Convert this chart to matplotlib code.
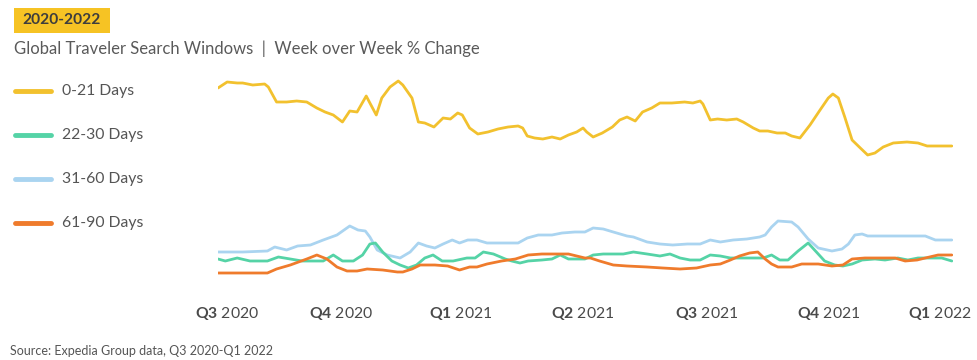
import matplotlib
matplotlib.use("Agg")
import matplotlib.pyplot as plt
from matplotlib.lines import Line2D
from matplotlib.patches import Rectangle

plt.rcParams["font.family"] = ["Lato", "DejaVu Sans"]
plt.rcParams["mathtext.fontset"] = "custom"
plt.rcParams["mathtext.rm"] = "Lato"
plt.rcParams["mathtext.bf"] = "Lato:bold"

# Weekly index values, x in weeks since start of Q3 2020
wk_0_21 = [0.0, 1.0, 2.1, 2.7, 3.8, 5.1, 5.5, 6.4, 7.5, 8.6, 9.7, 10.8, 11.7, 12.6,
           13.6, 14.4, 15.2, 16.2, 16.6, 17.3, 17.9, 18.8, 19.7, 20.2, 21.2, 21.9,
           22.6, 23.6, 24.6, 25.4, 26.2, 26.7, 27.5, 28.4, 29.5, 30.6, 31.7, 32.8,
           33.3, 33.8, 34.6, 35.5, 36.5, 37.4, 38.3, 39.2, 39.9, 40.3, 41.0, 42.0,
           43.1, 43.9, 44.7, 45.6, 46.4, 47.4, 48.3, 49.6, 51.0, 51.9, 52.7, 53.0,
           53.8, 54.6, 55.6, 56.7, 57.4, 58.5, 59.2, 60.1, 61.1, 62.0, 62.7, 63.6,
           64.7, 65.8, 66.7, 67.2, 67.8, 68.5, 69.3, 70.2, 71.0, 71.8, 72.7, 73.8,
           75.3, 76.5, 77.5, 78.9, 80.2]
val_0_21 = [192, 198, 197, 197, 195, 196, 193, 178, 178, 179, 178, 172, 168, 165,
            158, 169, 168, 184, 177, 165, 182, 193, 199, 195, 182, 158,
            157, 153, 162, 161, 167, 165, 152, 146, 148, 151, 153, 154,
            152, 144, 142, 141, 143, 141, 145, 148, 152, 148, 143, 147,
            153, 160, 163, 159, 168, 172, 177, 177, 178, 177, 179, 176,
            160, 161, 160, 161, 158, 152, 149, 149, 147, 147, 144, 142,
            155, 170, 182, 186, 182, 163, 140, 132, 125, 127, 133, 137,
            138, 137, 134, 134, 134]

wk_22_30 = [0.0, 0.8, 2.1, 3.5, 5.4, 6.6, 7.9, 9.2, 11.5, 12.6, 13.6, 14.8, 15.8,
            16.6, 17.2, 18.0, 19.0, 19.9, 20.8, 21.7, 22.6, 23.5, 24.5, 25.7, 26.7,
            27.2, 28.1, 29.0, 30.1, 31.4, 32.1, 33.0, 33.9, 35.4, 36.5, 37.4, 38.3,
            40.1, 41.0, 42.1, 43.2, 44.3, 45.4, 46.9, 48.3, 49.4, 50.5, 51.6, 52.7,
            53.8, 54.9, 56.0, 57.8, 59.6, 60.5, 61.4, 62.3, 63.4, 64.5, 65.2, 66.3,
            67.4, 68.3, 69.3, 70.4, 71.8, 72.9, 74.3, 75.4, 76.5, 78.0, 79.1, 80.2]
val_22_30 = [21, 19, 22, 19, 19, 23, 21, 19, 19, 25, 19, 19, 25,
             36, 37, 28, 19, 15, 12, 15, 22, 25, 19, 19, 21,
             22, 22, 28, 26, 21, 19, 17, 19, 20, 21, 25, 21,
             21, 25, 26, 26, 26, 28, 26, 24, 26, 22, 20, 20,
             25, 24, 22, 22, 22, 25, 20, 20, 29, 37, 30, 19,
             15, 14, 16, 20, 21, 20, 22, 20, 22, 22, 22, 19]

wk_31_60 = [0.0, 2.7, 5.4, 6.2, 7.5, 8.7, 10.1, 11.5, 13.0, 14.4, 15.3, 16.1, 16.6,
            17.4, 18.5, 19.9, 21.0, 21.9, 22.8, 23.7, 24.6, 25.6, 26.4, 27.3, 28.3,
            29.4, 31.0, 32.8, 33.8, 35.0, 36.5, 37.6, 39.0, 40.1, 41.0, 42.1, 43.2,
            44.7, 45.4, 46.9, 48.3, 49.7, 51.3, 52.7, 53.8, 54.9, 56.3, 57.8, 59.2,
            59.8, 60.5, 61.2, 62.7, 63.4, 64.5, 65.6, 67.1, 68.2, 68.9, 69.6, 70.4,
            71.0, 72.6, 74.3, 76.2, 77.3, 78.4, 80.2]
val_31_60 = [28, 28, 29, 33, 30, 34, 35, 40, 45, 54, 50, 49, 43,
             30, 25, 22, 28, 37, 34, 32, 36, 40, 37, 40, 40,
             37, 37, 37, 42, 45, 45, 47, 48, 48, 52, 51, 48,
             44, 43, 38, 36, 35, 36, 36, 40, 38, 40, 41, 43,
             45, 53, 59, 58, 53, 41, 32, 29, 31, 36, 45, 46,
             44, 44, 44, 44, 44, 40, 40]

wk_61_90 = [0.0, 5.4, 6.4, 7.9, 9.7, 10.8, 11.9, 13.0, 14.1, 15.2, 16.3, 18.0, 19.6,
            20.2, 21.2, 22.1, 23.7, 25.1, 26.4, 27.5, 28.3, 29.4, 31.0, 32.5, 33.9,
            35.4, 36.8, 38.3, 40.1, 40.7, 41.7, 43.2, 44.7, 46.9, 48.6, 50.5, 52.3,
            53.8, 54.9, 56.0, 57.0, 58.1, 59.0, 59.8, 60.5, 61.2, 62.7, 63.8, 65.6,
            67.1, 68.3, 69.3, 70.7, 72.6, 74.0, 75.1, 76.4, 77.3, 78.7, 80.2]
val_61_90 = [7, 7, 11, 15, 21, 25, 21, 13, 9, 9, 11, 10, 8,
             8, 11, 15, 15, 14, 10, 13, 13, 16, 19, 21, 25,
             26, 26, 26, 22, 22, 19, 15, 14, 13, 12, 11, 12,
             15, 16, 20, 24, 27, 28, 21, 16, 13, 13, 16, 16,
             14, 15, 21, 22, 22, 22, 19, 20, 22, 25, 25]

series_names = ["0-21 Days", "22-30 Days", "31-60 Days", "61-90 Days"]
series_colors = ["#F2C12E", "#55D3A6", "#AAD4F0", "#EF7B2C"]

quarter_weeks = [1.0, 13.4, 26.5, 39.9, 53.4, 66.7, 78.9]
quarter_q = ["Q3", "Q4", "Q1", "Q2", "Q3", "Q4", "Q1"]
quarter_year = ["2020", "2020", "2021", "2021", "2021", "2021", "2022"]

W, H = 977, 360
fig = plt.figure(figsize=(W / 100, H / 100), dpi=100)
fig.patch.set_facecolor("white")

ax = fig.add_axes([218 / W, 75 / H, 735 / W, 215 / H])
ax.set_xlim(0, 80.33)
ax.set_ylim(-5, 210)
ax.axis("off")

all_data = [(wk_0_21, val_0_21), (wk_22_30, val_22_30),
            (wk_31_60, val_31_60), (wk_61_90, val_61_90)]
# blue underneath, yellow on top
for idx in [2, 1, 3, 0]:
    wk, val = all_data[idx]
    ax.plot(wk, val, color=series_colors[idx], lw=2.0,
            solid_joinstyle="round", solid_capstyle="round")

# quarter labels: bold quarter, light year
label_y = (H - 313) / H
tr = matplotlib.transforms.blended_transform_factory(ax.transData, fig.transFigure)
for wk, q, yr in zip(quarter_weeks, quarter_q, quarter_year):
    ax.text(wk, label_y, r"$\mathbf{%s}$ %s" % (q, yr), transform=tr,
            ha="center", va="center", fontsize=11.3, color="#4a4a4a")

# header tag
fig.add_artist(Rectangle((14 / W, (H - 33) / H), 96 / W, 25 / H,
                         transform=fig.transFigure, facecolor="#F6C324",
                         edgecolor="none"))
fig.text(62 / W, (H - 20.5) / H, "2020-2022", ha="center", va="center",
         fontsize=11.2, fontweight="bold", color="#3d3d3d")
fig.text(14 / W, (H - 49) / H,
         "Global Traveler Search Windows  |  Week over Week % Change",
         ha="left", va="center", fontsize=12.0, color="#5a5a5a")

# legend
legend_y = [91, 135, 179, 223]
for name, col, py in zip(series_names, series_colors, legend_y):
    fig.add_artist(Line2D([15 / W, 51 / W], [(H - py) / H, (H - py) / H],
                          transform=fig.transFigure, color=col, lw=3.5,
                          solid_capstyle="round"))
    fig.text(62 / W, (H - py) / H, name, ha="left", va="center",
             fontsize=11.3, color="#555555")

fig.text(10 / W, (H - 351) / H, "Source: Expedia Group data, Q3 2020-Q1 2022",
         ha="left", va="center", fontsize=9, color="#555555")

fig.savefig("out.png", dpi=100, facecolor="white")
